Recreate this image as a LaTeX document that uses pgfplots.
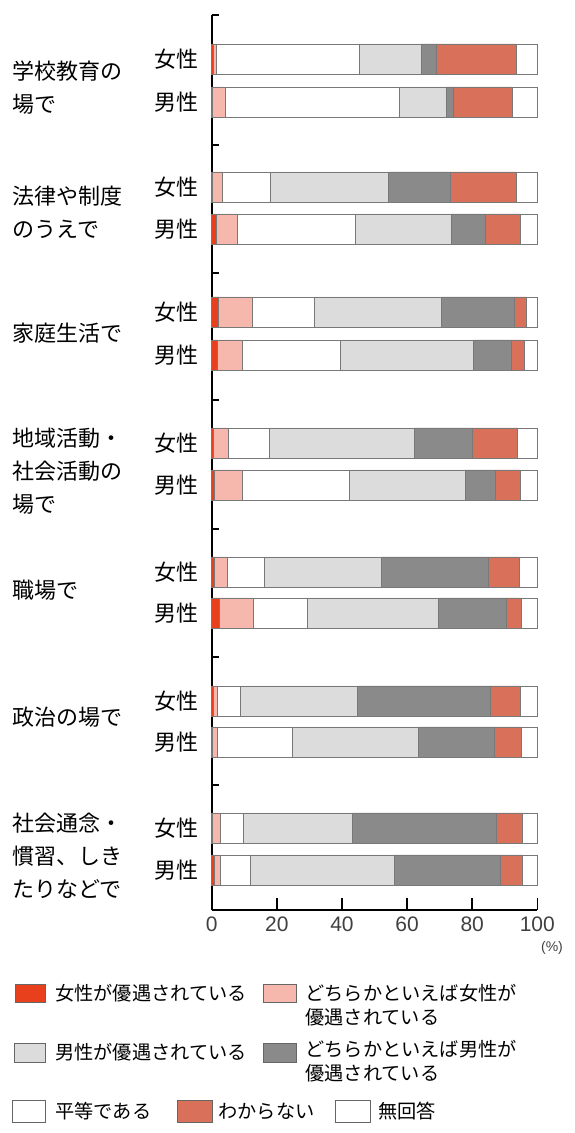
\documentclass[border=0pt]{standalone}
\usepackage{fontspec}
\setmainfont{Noto Sans CJK JP}
\newfontfamily\numfont{Liberation Sans}
\usepackage{pgfplots}
\usepackage{pgfplotstable}
\pgfplotsset{compat=1.18}
\definecolor{cRed}{RGB}{232,64,28}
\definecolor{cPink}{RGB}{246,184,172}
\definecolor{cLight}{RGB}{220,220,220}
\definecolor{cDark}{RGB}{138,138,138}
\definecolor{cSalmon}{RGB}{217,112,90}
\definecolor{cEdge}{RGB}{120,120,120}

\pgfplotstableread{
y    a   b    c    d    e    f    g
-59  0.5 0.8  44.0 19.1 4.5  24.6 6.5
-102 0.3 3.9  53.4 14.5 2.1  18.2 7.6
-187 0.3 3.0  14.8 36.1 19.0 20.3 6.5
-229 1.4 6.4  36.3 29.4 10.6 10.8 5.1
-312 2.2 10.3 18.9 39.1 22.5 3.7  3.3
-355 1.6 7.7  30.3 40.9 11.6 3.8  4.1
-443 0.5 4.6  12.5 44.6 17.9 13.9 6.0
-485 0.9 8.5  33.0 35.4 9.2  7.7  5.3
-572 0.9 3.9  11.3 36.1 32.7 9.6  5.5
-613 2.3 10.4 16.6 40.4 20.9 4.6  4.8
-701 0.5 1.1  7.2  36.0 40.7 9.4  5.1
-742 0.2 1.7  22.8 38.9 23.1 8.5  4.8
-828 0.2 2.6  6.8  33.6 44.3 8.0  4.5
-870 0.7 2.0  9.2  44.1 32.7 6.8  4.5
}\data

\begin{document}
\begin{tikzpicture}
\begin{axis}[
  at={(0,0)}, anchor=south west,
  scale only axis, width=162.8pt, height=447.5pt,
  xmin=0, xmax=100, ymin=-910, ymax=-15,
  xbar stacked, bar width=30,
  axis lines=left, axis line style={-, line width=0.8pt},
  xtick={0,20,40,60,80,100},
  ytick={-15,-145,-273,-400,-529,-657,-785},
  yticklabels={},
  tick align=inside,
  xtick style={/pgfplots/major tick length=6pt, line width=0.8pt, black},
  ytick style={/pgfplots/major tick length=3.5pt, line width=0.8pt, black},
  clip=false,
  every axis plot/.append style={draw=cEdge, line width=0.4pt},
  xticklabel style={font=\numfont\fontsize{10.5}{12}\selectfont, text=black!75},
  /pgf/number format/assume math mode=true,
]
\addplot[fill=cRed] table[x=a,y=y]{\data};
\addplot[fill=cPink] table[x=b,y=y]{\data};
\addplot[fill=white] table[x=c,y=y]{\data};
\addplot[fill=cLight] table[x=d,y=y]{\data};
\addplot[fill=cDark] table[x=e,y=y]{\data};
\addplot[fill=cSalmon] table[x=f,y=y]{\data};
\addplot[fill=white] table[x=g,y=y]{\data};
\end{axis}
\begin{scope}[shift={(-105.85pt,455pt)}, x=0.5pt, y=-0.5pt]
\useasboundingbox (0,0) rectangle (574,1133);
\tikzset{cat/.style={anchor=west, align=left, inner sep=0pt, font=\fontsize{11}{16.5}\selectfont},
  sex/.style={anchor=east, inner sep=0pt, font=\fontsize{11}{13}\selectfont},
  leg/.style={anchor=west, align=left, inner sep=0pt, font=\fontsize{9.6}{12}\selectfont},
  box/.style={draw=black!60, line width=0.4pt}}
\node[cat] at (12,87.5) {学校教育の\\場で};
\node[cat] at (12,212) {法律や制度\\のうえで};
\node[cat] at (12,333) {家庭生活で};
\node[cat] at (12,471.5) {地域活動・\\社会活動の\\場で};
\node[cat] at (12,590) {職場で};
\node[cat] at (12,717) {政治の場で};
\node[cat] at (12,856) {社会通念・\\慣習、しき\\たりなどで};
\foreach \yf/\ym in {59/102,187/229,312/355,443/485,572/613,701/742,828/870}{
  \node[sex] at (199,\yf) {女性};
  \node[sex] at (199,\ym) {男性};
}
\node[anchor=center, inner sep=0pt, font=\numfont\fontsize{7}{8}\selectfont, text=black!75] at (552,948) {(\%)};
% legend
\draw[box, fill=cRed] (15,984) rectangle (45,1002);
\node[leg] at (55,993) {女性が優遇されている};
\draw[box, fill=cPink] (263,984) rectangle (296,1002);
\node[leg] at (305,1005) {どちらかといえば女性が\\優遇されている};
\draw[box, fill=cLight] (14,1043) rectangle (45,1062);
\node[leg] at (55,1052) {男性が優遇されている};
\draw[box, fill=cDark] (263,1043) rectangle (296,1062);
\node[leg] at (305,1061) {どちらかといえば男性が\\優遇されている};
\draw[box, fill=white] (12,1100) rectangle (45,1122);
\node[leg] at (55,1111) {平等である};
\draw[box, fill=cSalmon] (177,1100) rectangle (212,1122);
\node[leg] at (218,1111) {わからない};
\draw[box, fill=white] (335,1100) rectangle (370,1122);
\node[leg] at (378,1111) {無回答};
\end{scope}
\end{tikzpicture}
\end{document}
